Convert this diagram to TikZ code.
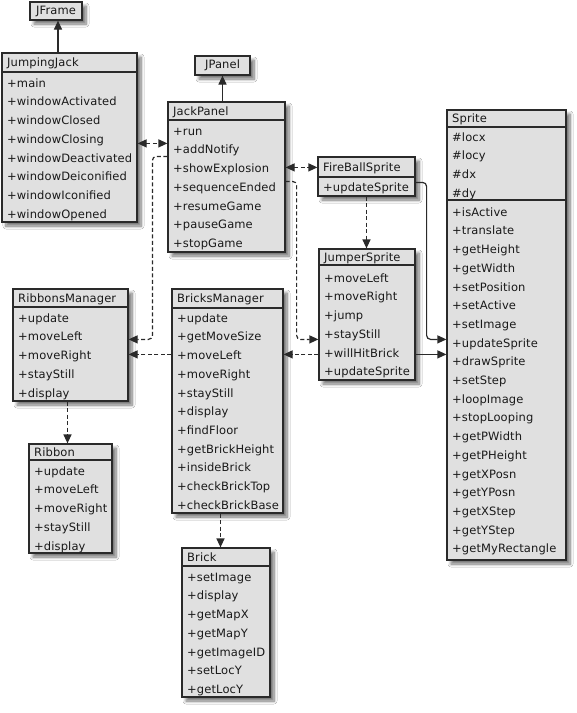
\documentclass[tikz,border=0pt]{standalone}
\usepackage{fontspec}
\setmainfont{DejaVu Sans}[LetterSpace=1]
\usetikzlibrary{arrows.meta,fit,calc,shadows.blur}
\definecolor{boxfill}{HTML}{E0E0E0}
\definecolor{ink}{HTML}{2A2A2A}
\tikzset{
  clsbox/.style={draw=ink, line width=1.2pt, fill=boxfill, inner sep=0pt,
    blur shadow={shadow xshift=4pt, shadow yshift=-4pt, shadow blur steps=8, shadow blur radius=3pt, shadow opacity=55}},
  rowtxt/.style={anchor=base west, inner sep=0pt, font=\fontsize{11.5}{13}\selectfont, text=black!90},
  sepline/.style={draw=ink, line width=1.1pt},
  solidarr/.style={draw=ink, line width=1.2pt, -{Triangle[length=9pt,width=8pt]}, rounded corners=4pt},
  dasharr/.style={solidarr, dash pattern=on 4pt off 2.5pt},
  dblarr/.style={dasharr, {Triangle[length=9pt,width=8pt]}-{Triangle[length=9pt,width=8pt]}},
}
\newcommand\umlbox[7]{% id x1 y1 x2 y2 sep title
  \node[clsbox, fit={(#2,#3) (#4,#5)}] (#1) {};
  \node[rowtxt] (#1-title) at ({#2+5}, {(#3+#6)/2+4.2}) {#7};
  \draw[sepline] (#1.west |- 0,#6) -- (#1.east |- 0,#6);
}
\newcommand\umlrows[5]{% id x1 firsty startindex list
  \foreach \t [count=\i from #4] in {#5}
    \node[rowtxt] (#1-\i) at ({#2+5}, {#3+(\i-#4)*18.7+4.2}) {\t};
}
\begin{document}
\begin{tikzpicture}[x=1pt,y=-1pt]
\useasboundingbox[fill=white] (0,0) rectangle (577,713);

% title-only boxes
\node[clsbox, fit={(30,2) (82,20)}] (jf) {};
\node[rowtxt, anchor=center] (jf-title) at (jf.center) {JFrame};
\node[clsbox, fit={(195,56) (250,75)}] (jpl) {};
\node[rowtxt, anchor=center] (jpl-title) at (jpl.center) {JPanel};

% JumpingJack
\umlbox{jj}{2}{53}{137}{222}{72}{JumpingJack}
\umlrows{jj}{2}{83}{1}{+main,+windowActivated,+windowClosed,+windowClosing,+windowDeactivated,+windowDeiconified,+windowIconified,+windowOpened}

% JackPanel
\umlbox{jp}{168}{102}{285}{252}{120}{JackPanel}
\umlrows{jp}{168}{131}{1}{+run,+addNotify,+showExplosion,+sequenceEnded,+resumeGame,+pauseGame,+stopGame}

% FireBallSprite
\umlbox{fb}{318}{157}{415}{196}{177}{FireBallSprite}
\umlrows{fb}{318}{187}{1}{+updateSprite}

% JumperSprite
\umlbox{js}{319}{249}{415}{380}{265}{JumperSprite}
\umlrows{js}{319}{278}{1}{+moveLeft,+moveRight,+jump,+stayStill,+willHitBrick,+updateSprite}

% Sprite
\umlbox{sp}{447}{110}{566}{560}{127}{Sprite}
\umlrows{sp}{447}{137}{1}{\#locx,\#locy,\#dx,\#dy}
\draw[sepline] (sp.west |- 0,200) -- (sp.east |- 0,200);
\umlrows{sp}{447}{212}{5}{+isActive,+translate,+getHeight,+getWidth,+setPosition,+setActive,+setImage,+updateSprite,+drawSprite,+setStep,+loopImage,+stopLooping,+getPWidth,+getPHeight,+getXPosn,+getYPosn,+getXStep,+getYStep,+getMyRectangle}

% RibbonsManager
\umlbox{rm}{13}{289}{128}{401}{307}{RibbonsManager}
\umlrows{rm}{13}{318}{1}{+update,+moveLeft,+moveRight,+stayStill,+display}

% Ribbon
\umlbox{rb}{29}{444}{112}{553}{460}{Ribbon}
\umlrows{rb}{29}{471}{1}{+update,+moveLeft,+moveRight,+stayStill,+display}

% BricksManager
\umlbox{bm}{172}{289}{283}{513}{308}{BricksManager}
\umlrows{bm}{172}{318}{1}{+update,+getMoveSize,+moveLeft,+moveRight,+stayStill,+display,+findFloor,+getBrickHeight,+insideBrick,+checkBrickTop,+checkBrickBase}

% Brick
\umlbox{br}{182}{548}{270}{697}{566}{Brick}
\umlrows{br}{182}{577}{1}{+setImage,+display,+getMapX,+getMapY,+getImageID,+setLocY,+getLocY}

% connectors
\draw[solidarr] ([xshift=2pt]jf.south |- jj.north) -- ([xshift=2pt]jf.south);
\draw[solidarr] (jpl.south |- jp.north) -- (jpl.south);
\draw[dblarr] ([yshift=-91pt]jj.north east) -- ([yshift=-91pt]jj.north east -| jp.west);
\draw[dblarr] ([yshift=-66pt]jp.north east) -- ([yshift=-66pt]jp.north east -| fb.west);
\draw[dasharr] ([yshift=-55pt]jp.north west) -- ++(-15pt,0) |- ([yshift=-51pt]rm.north east);
\draw[dasharr] ([yshift=-80pt]jp.north east) -- ++(11pt,0) |- ([yshift=-91pt]js.north west);
\draw[dasharr] (fb.south) -- (fb.south |- js.north);
\draw[solidarr] ([yshift=-26pt]fb.north east) -- ++(11pt,0) |- ([yshift=-230pt]sp.north west);
\draw[solidarr] ([yshift=-106pt]js.north east) -- ([yshift=-106pt]js.north east -| sp.west);
\draw[dasharr] ([yshift=-106pt]js.north west) -- ([yshift=-106pt]js.north west -| bm.east);
\draw[dasharr] ([yshift=-66pt]bm.north west) -- ([yshift=-66pt]bm.north west -| rm.east);
\draw[dasharr] ([xshift=-3pt]rm.south) -- ([xshift=-3pt]rm.south |- rb.north);
\draw[dasharr] ([xshift=-7pt]bm.south) -- ([xshift=-7pt]bm.south |- br.north);
\end{tikzpicture}
\end{document}
